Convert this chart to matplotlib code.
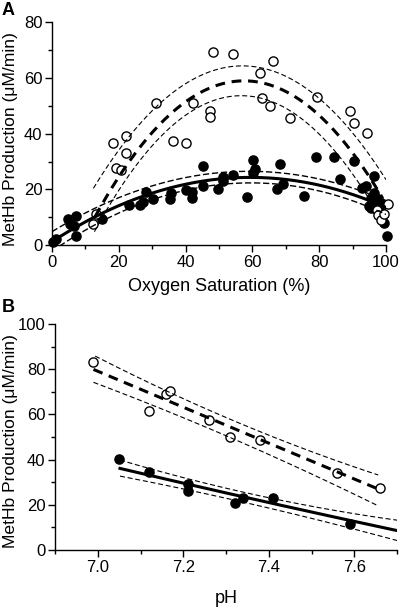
import numpy as np
import matplotlib
matplotlib.use("Agg")
import matplotlib.pyplot as plt
from matplotlib.ticker import MultipleLocator

plt.rcParams['font.family'] = ['Liberation Sans', 'DejaVu Sans']

# ---------------- Panel A data (Oxygen saturation %, MetHb production) -------------
a_open_x = [12.2, 13.2, 18.4, 19.2, 20.7, 22.2, 22.2, 31.1, 36.2, 40.1, 42.1, 47.2, 47.2,
            48.1, 54.1, 62.3, 62.8, 65.3, 66.3, 71.3, 79.3, 89.3, 90.3, 94.3, 97.3, 97.5,
            98.5, 99.5, 100.5]
a_open_y = [7.4, 11.2, 36.6, 27.8, 27.0, 33.0, 39.2, 51.0, 37.4, 36.6, 51.2, 48.3, 46.0,
            69.5, 68.7, 62.0, 53.0, 50.1, 66.3, 45.6, 53.3, 48.2, 44.0, 40.2, 12.6, 10.8,
            9.0, 11.2, 14.6]
a_fill_x = [0.4, 1.2, 4.9, 5.4, 6.7, 7.1, 7.2, 15.1, 23.2, 26.2, 27.2, 28.0, 30.2, 35.2,
            35.5, 40.1, 41.9, 42.0, 45.2, 45.2, 49.7, 51.3, 51.3, 54.2, 58.3, 60.3, 60.8,
            60.3, 67.3, 68.3, 69.3, 75.3, 79.0, 84.3, 86.3, 90.3, 92.8, 94.0, 96.3, 96.5,
            95.5, 95.0, 96.5, 97.7, 98.3, 95.5, 99.5, 100.3, 98.5]
a_fill_y = [1.2, 2.0, 9.2, 7.4, 6.8, 10.4, 3.2, 9.5, 14.3, 14.3, 15.6, 19.0, 16.7, 16.4,
            18.8, 19.8, 19.2, 17.0, 28.4, 21.2, 20.0, 24.4, 23.0, 25.0, 17.2, 30.6, 27.2,
            26.0, 20.0, 29.1, 21.9, 17.6, 31.8, 31.8, 23.6, 30.3, 20.4, 21.2, 24.8, 18.6,
            16.8, 14.0, 14.4, 16.4, 15.0, 13.2, 7.8, 3.3, 12.0]

# fitted curves (anchor points: x, y)
a_open_fit_x = [12.9, 56.5, 99.0];   a_open_fit_y = [10.2, 59.0, 16.8]
a_open_up_x = [12.4, 56.5, 100.0];   a_open_up_y = [20.4, 64.4, 23.5]
a_open_lo_x = [12.7, 58.5, 96.5];    a_open_lo_y = [4.8, 53.6, 13.5]
a_fill_fit_x = [0.0, 58.0, 100.0];   a_fill_fit_y = [1.2, 24.3, 13.5]
a_fill_up_x = [0.0, 55.0, 100.0];    a_fill_up_y = [4.8, 26.4, 16.0]
a_fill_lo_x = [0.0, 55.0, 100.0];    a_fill_lo_y = [-2.2, 22.2, 11.0]

# ---------------- Panel B data (pH, MetHb production) ----------------
b_open_x = [6.99, 7.12, 7.16, 7.17, 7.26, 7.31, 7.38, 7.56, 7.66]
b_open_y = [83.3, 61.5, 68.9, 70.5, 57.5, 50.1, 48.7, 33.9, 27.3]
b_fill_x = [7.05, 7.12, 7.21, 7.21, 7.32, 7.34, 7.41, 7.59]
b_fill_y = [40.1, 34.4, 29.2, 26.3, 20.9, 23.1, 23.1, 11.5]

b_open_fit_x = [6.99, 7.26, 7.652];  b_open_fit_y = [79.9, 58.4, 27.3]
b_open_up_x = [6.994, 7.26, 7.656];  b_open_up_y = [85.8, 61.9, 33.2]
b_open_lo_x = [6.99, 7.26, 7.652];   b_open_lo_y = [74.2, 53.8, 19.9]
b_fill_fit_x = [7.052, 7.426, 7.7];  b_fill_fit_y = [36.1, 19.9, 8.6]
b_fill_up_x = [7.052, 7.426, 7.7];   b_fill_up_y = [39.8, 22.1, 13.2]
b_fill_lo_x = [7.052, 7.426, 7.7];   b_fill_lo_y = [32.7, 17.4, 4.2]

ylabel = "MetHb Production (\u03bcM/min)"

fig = plt.figure(figsize=(4.0, 6.08), dpi=100)
axA = fig.add_axes([0.13, 0.597, 0.835, 0.366])
axB = fig.add_axes([0.1375, 0.0954, 0.855, 0.3717])


def curve(ax, xs, ys, **kw):
    c = np.polyfit(xs, ys, 2)
    xx = np.linspace(min(xs), max(xs), 200)
    ax.plot(xx, np.polyval(c, xx), **kw)


bold_dash = dict(color='black', lw=2.2, ls=(0, (3.2, 2.2)), zorder=5)
thin_dash = dict(color='black', lw=0.8, ls=(0, (4.5, 2.5)), zorder=5)
solid = dict(color='black', lw=2.2, ls='-', zorder=5)
mk = 6.6

for ax in (axA, axB):
    for s in ('top', 'right'):
        ax.spines[s].set_visible(False)
    for s in ('left', 'bottom'):
        ax.spines[s].set_linewidth(1.0)
    ax.tick_params(which='major', direction='out', length=5, width=1.0, labelsize=12, pad=2)
    ax.tick_params(which='minor', direction='out', length=3, width=1.0)

# Panel A
axA.plot(a_fill_x, a_fill_y, 'o', ms=mk, mfc='black', mec='black', clip_on=False, zorder=3)
axA.plot(a_open_x, a_open_y, 'o', ms=mk, mfc='white', mec='black', mew=1.0, clip_on=False, zorder=4)
curve(axA, a_open_fit_x, a_open_fit_y, **bold_dash)
curve(axA, a_open_up_x, a_open_up_y, **thin_dash)
curve(axA, a_open_lo_x, a_open_lo_y, **thin_dash)
curve(axA, a_fill_fit_x, a_fill_fit_y, **solid)
curve(axA, a_fill_up_x, a_fill_up_y, color='black', lw=1.0, ls=(0, (4.5, 2.0)), zorder=5)
curve(axA, a_fill_lo_x, a_fill_lo_y, color='black', lw=1.0, ls=(0, (4.5, 2.0)), zorder=5)
axA.set_xlim(0, 100)
axA.set_ylim(0, 80)
axA.xaxis.set_major_locator(MultipleLocator(20))
axA.xaxis.set_minor_locator(MultipleLocator(10))
axA.yaxis.set_major_locator(MultipleLocator(20))
axA.yaxis.set_minor_locator(MultipleLocator(10))
axA.set_xlabel("Oxygen Saturation (%)", fontsize=13, labelpad=6)
axA.set_ylabel(ylabel, fontsize=12.6)
axA.yaxis.set_label_coords(18 / 400, 0.5 + 0.005, transform=None)
axA.yaxis.label.set_transform(fig.transFigure)
axA.yaxis.label.set_position((18 / 400, 1 - 139 / 608))

# Panel B
axB.plot(b_fill_x, b_fill_y, 'o', ms=mk, mfc='black', mec='black', clip_on=False, zorder=3)
axB.plot(b_open_x, b_open_y, 'o', ms=mk, mfc='white', mec='black', mew=1.0, clip_on=False, zorder=4)
curve(axB, b_open_fit_x, b_open_fit_y, **bold_dash)
curve(axB, b_open_up_x, b_open_up_y, **thin_dash)
curve(axB, b_open_lo_x, b_open_lo_y, **thin_dash)
curve(axB, b_fill_fit_x, b_fill_fit_y, **solid)
curve(axB, b_fill_up_x, b_fill_up_y, **thin_dash)
curve(axB, b_fill_lo_x, b_fill_lo_y, **thin_dash)
axB.set_xlim(6.9, 7.7)
axB.set_ylim(0, 100)
axB.set_xticks([7.0, 7.2, 7.4, 7.6])
axB.set_xticklabels(["7.0", "7.2", "7.4", "7.6"])
axB.xaxis.set_minor_locator(MultipleLocator(0.1))
axB.yaxis.set_major_locator(MultipleLocator(20))
axB.yaxis.set_minor_locator(MultipleLocator(10))
axB.set_xlabel("pH", fontsize=13, labelpad=11)
axB.set_ylabel(ylabel, fontsize=12.6)
axB.yaxis.set_label_coords(18 / 400, 1 - 441 / 608, transform=fig.transFigure)

fig.text(0.005, 0.997, "A", fontsize=13, fontweight='bold', va='top', ha='left')
fig.text(0.005, 0.508, "B", fontsize=13, fontweight='bold', va='top', ha='left')

fig.savefig("out.png", dpi=100)
